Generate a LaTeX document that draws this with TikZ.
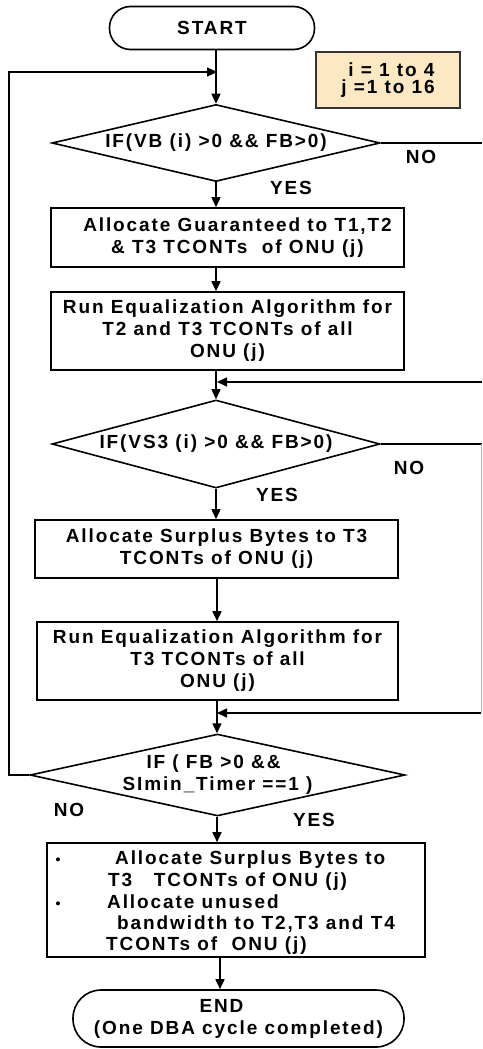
\documentclass[tikz,border=0pt]{standalone}
\usepackage{fontspec}
\setmainfont{Liberation Sans}[LetterSpace=10]
\usetikzlibrary{shapes.geometric,arrows.meta}
\definecolor{infofill}{HTML}{FCE9C4}
\begin{document}
\begin{tikzpicture}[x=1pt,y=-1pt,
  every node/.style={font=\bfseries\fontsize{19}{22}\selectfont, inner sep=0pt},
  line/.style={line width=1.6pt},
  arr/.style={line width=1.6pt, -{Triangle[length=10pt,width=9pt]}},
  box/.style={draw, line width=1.6pt, rectangle, align=center},
  dia/.style={draw, diamond, line width=1.6pt, align=center, shape aspect=4.5}]
\useasboundingbox (0,0) rectangle (482,1049);
% nodes
\node[box, rounded corners=21pt, minimum width=205pt, minimum height=43pt] (start) at (212,28) {START};
\node[box, fill=infofill, draw=black!80, line width=1.2pt, align=left, minimum width=144pt, minimum height=56pt,
      font=\bfseries\fontsize{19}{17}\selectfont] (info) at (388,80) {\hspace*{7pt}i = 1 to 4\\j =1 to 16};
\node[dia, minimum width=328pt, minimum height=77pt] (d1) at (216,143) {IF(VB (i) >0 \&\& FB>0)};
\node[box, minimum width=353pt, minimum height=59pt] (b1) at (227.5,237.5)
  {\hspace*{20pt}Allocate Guaranteed to T1,T2\\\hspace*{20pt}\& T3 TCONTs\ \ of ONU (j)};
\node[box, minimum width=353pt, minimum height=78pt] (b2) at (227.5,331)
  {Run Equalization Algorithm for\\T2 and T3 TCONTs of all\\ONU (j)};
\node[dia, minimum width=328pt, minimum height=88pt] (d2) at (216,444) {IF(VS3 (i) >0 \&\& FB>0)};
\node[box, minimum width=363pt, minimum height=58pt] (b3) at (216.5,549)
  {Allocate Surplus Bytes to T3\\TCONTs of ONU (j)};
\node[box, minimum width=361pt, minimum height=78pt] (b4) at (217.5,661)
  {Run Equalization Algorithm for\\T3 TCONTs of all\hspace*{28pt}\\ONU (j)};
\node[dia, minimum width=375pt, minimum height=76pt] (d3) at (217.5,775)
  {IF ( FB >0 \&\&\hspace*{8pt}\\SImin\_Timer ==1 )};
\node[box, minimum width=378pt, minimum height=114pt] (b5) at (236,900) {};
\node[anchor=base] (bul1) at (58,864) {\fontsize{14}{14}\selectfont •};
\node[anchor=base] (bul2) at (58,908) {\fontsize{14}{14}\selectfont •};
\node[anchor=base west] (t1) at (115,864) {Allocate Surplus Bytes to};
\node[anchor=base west] (t2) at (108,886) {T3\ \ \ TCONTs of ONU (j)};
\node[anchor=base west] (t3) at (107,908) {Allocate unused};
\node[anchor=base west] (t4) at (117,929) {bandwidth to T2,T3 and T4};
\node[anchor=base west] (t5) at (106,950) {TCONTs of\ \ ONU (j)};
\node[box, rounded corners=28pt, minimum width=331pt, minimum height=57pt] (end) at (238.5,1018.5)
  {END\hspace*{34pt}\\(One DBA cycle completed)};
% labels
\node (no1) at (421,157) {NO};
\node (yes1) at (291,188) {YES};
\node (no2) at (409,468) {NO};
\node (yes2) at (277,495) {YES};
\node (no3) at (69,810) {NO};
\node (yes3) at (314,820) {YES};
% coordinates
\coordinate (m1) at (217,72);
\coordinate (m2) at (217,382);
\coordinate (m3) at (217,713);
\coordinate (r0) at (482,143);
\coordinate (r1) at (482,382);
\coordinate (r2) at (482,444);
\coordinate (r3) at (481,713);
% connectors
\draw[arr] (start.south -| d1.north) -- (d1.north);
\draw[arr] (d3.west) -- ++(-20,0) |- (m1);
\draw[line] (d1.east) -- (r0);
\draw[arr] (d1.south) -- (d1.south |- b1.north);
\draw[arr] (b1.south -| d1.south) -- (b2.north -| d1.south);
\draw[arr] (b2.south -| d2.north) -- (d2.north);
\draw[arr] (r1) -- (m2);
\draw[line] (d2.east) -- (r2);
\draw[line width=1pt, black!30] (r2 -| r3) -- (r3);
\draw[arr] (r3) -- (m3);
\draw[arr] (d2.south) -- (d2.south |- b3.north);
\draw[arr] (b3.south -| m3) -- (b4.north -| m3);
\draw[arr] (b4.south -| m3) -- (m3 |- d3.north);
\draw[arr] (d3.south -| m3) -- (b5.north -| m3);
\draw[arr] (b5.south -| 220,0) -- (end.north -| 220,0);
\end{tikzpicture}
\end{document}
